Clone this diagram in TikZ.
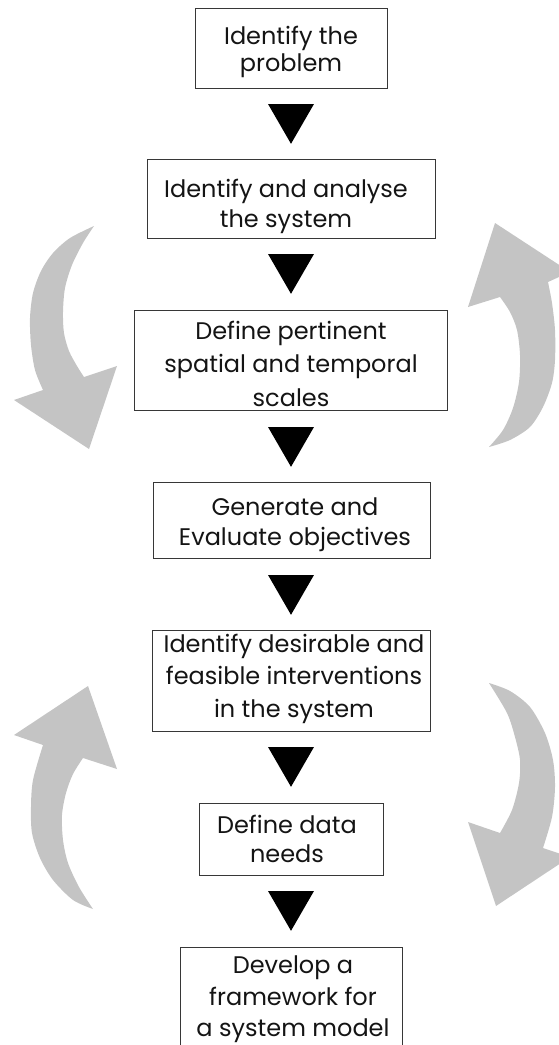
\documentclass[tikz,border=0pt]{standalone}
\usepackage{fontspec}
\setmainfont{Poppins}
\usetikzlibrary{shapes.geometric}
\definecolor{arrowgray}{RGB}{196,196,196}
\definecolor{boxline}{RGB}{55,55,55}
\definecolor{inktext}{RGB}{20,20,20}
\tikzset{
  stepbox/.style={draw=boxline, line width=0.9pt, rectangle, inner sep=0pt},
  steptext/.style={align=center, inner sep=0pt, anchor=base, text=inktext},
  flowtri/.style={regular polygon, regular polygon sides=3, shape border rotate=180,
    fill=black, inner sep=0pt, minimum size=53pt},
  curvarrow/.style={fill=arrowgray},
}
\newcommand{\stepfont}[1]{\fontsize{24}{#1}\selectfont}
\begin{document}
\begin{tikzpicture}[x=1pt,y=-1pt]
\useasboundingbox (0,0) rectangle (559,1045);
\clip (0,0) rectangle (559,1045);

% boxes
\node[stepbox, minimum width=192pt, minimum height=80pt]  (b1) at (291,48)   {};
\node[stepbox, minimum width=288pt, minimum height=79pt]  (b2) at (291,198.5) {};
\node[stepbox, minimum width=313pt, minimum height=100pt] (b3) at (290.5,360) {};
\node[stepbox, minimum width=277pt, minimum height=76pt]  (b4) at (291.5,520) {};
\node[stepbox, minimum width=278pt, minimum height=101pt] (b5) at (291,680.5) {};
\node[stepbox, minimum width=184pt, minimum height=72pt]  (b6) at (291,839)   {};
\node[stepbox, minimum width=222pt, minimum height=106pt] (b7) at (291,1000)  {};

% texts (anchor = baseline of the last line)
\node[steptext, font=\stepfont{27}]   (t1) at (291,71)   {Identify the\\problem};
\node[steptext, font=\stepfont{30}]   (t2) at (286,227)  {Identify and analyse\\the system};
\node[steptext, font=\stepfont{33.5}] (t3) at (291,406)  {Define pertinent\\spatial and temporal\\scales};
\node[steptext, font=\stepfont{30}]   (t4) at (295,545)  {Generate and\\Evaluate objectives};
\node[steptext, font=\stepfont{32.5}] (t5) at (294,717)  {Identify desirable and\\feasible interventions\\in the system};
\node[steptext, font=\stepfont{29}]   (t6) at (287,862)  {Define data\\needs};
\node[steptext, font=\stepfont{31.5}] (t7) at (293,1036.5) {Develop a\\framework for\\a system model};

% triangles between boxes
\node[flowtri] (a1) at (291,117.3) {};
\node[flowtri] (a2) at (291,267.3) {};
\node[flowtri] (a3) at (291,440.3) {};
\node[flowtri] (a4) at (291,588.3) {};
\node[flowtri] (a5) at (291,760.3) {};
\node[flowtri] (a6) at (291,904.3) {};

% curved grey arrows
% left top (pointing down)
\fill[curvarrow] plot[smooth] coordinates {(94,226) (83,243) (72,265) (65,288) (63,312) (64,333) (69,351) (77,366) (84,377)}
  -- (117,366) -- (89,449) -- (14,400) --
  plot[smooth] coordinates {(43,390) (35,370) (31,345) (30,318) (33,293) (41,271) (53,253) (70,238) (94,226)} -- cycle;
% right top (pointing up)
\fill[curvarrow] (495,223) -- (570,272) --
  plot[smooth] coordinates {(548,282) (552,303) (555,330) (555,360) (552,383) (543,407) (530,427) (510,440) (489,447)}
  -- plot[smooth] coordinates {(489,447) (503,430) (513,408) (519,382) (520,355) (517,330) (510,312) (500,297)}
  -- (468,307) -- cycle;
% left bottom (pointing up)
\fill[curvarrow] (88,686) -- (117,769) --
  plot[smooth] coordinates {(83,758) (73,774) (66,793) (62,815) (63,840) (68,863) (79,887) (93,909)}
  -- plot[smooth] coordinates {(93,909) (73,900) (53,880) (40,858) (32,833) (31,807) (33,780) (43,745)}
  -- (14,735) -- cycle;
% right bottom (pointing down)
\fill[curvarrow] plot[smooth] coordinates {(489,683) (510,691) (530,707) (545,733) (553,760) (555,787) (552,817) (543,848)}
  -- (570,857) -- (496,906) -- (468,822) --
  plot[smooth] coordinates {(500,833) (512,810) (519,783) (520,760) (515,737) (507,713) (489,683)} -- cycle;
\end{tikzpicture}
\end{document}
